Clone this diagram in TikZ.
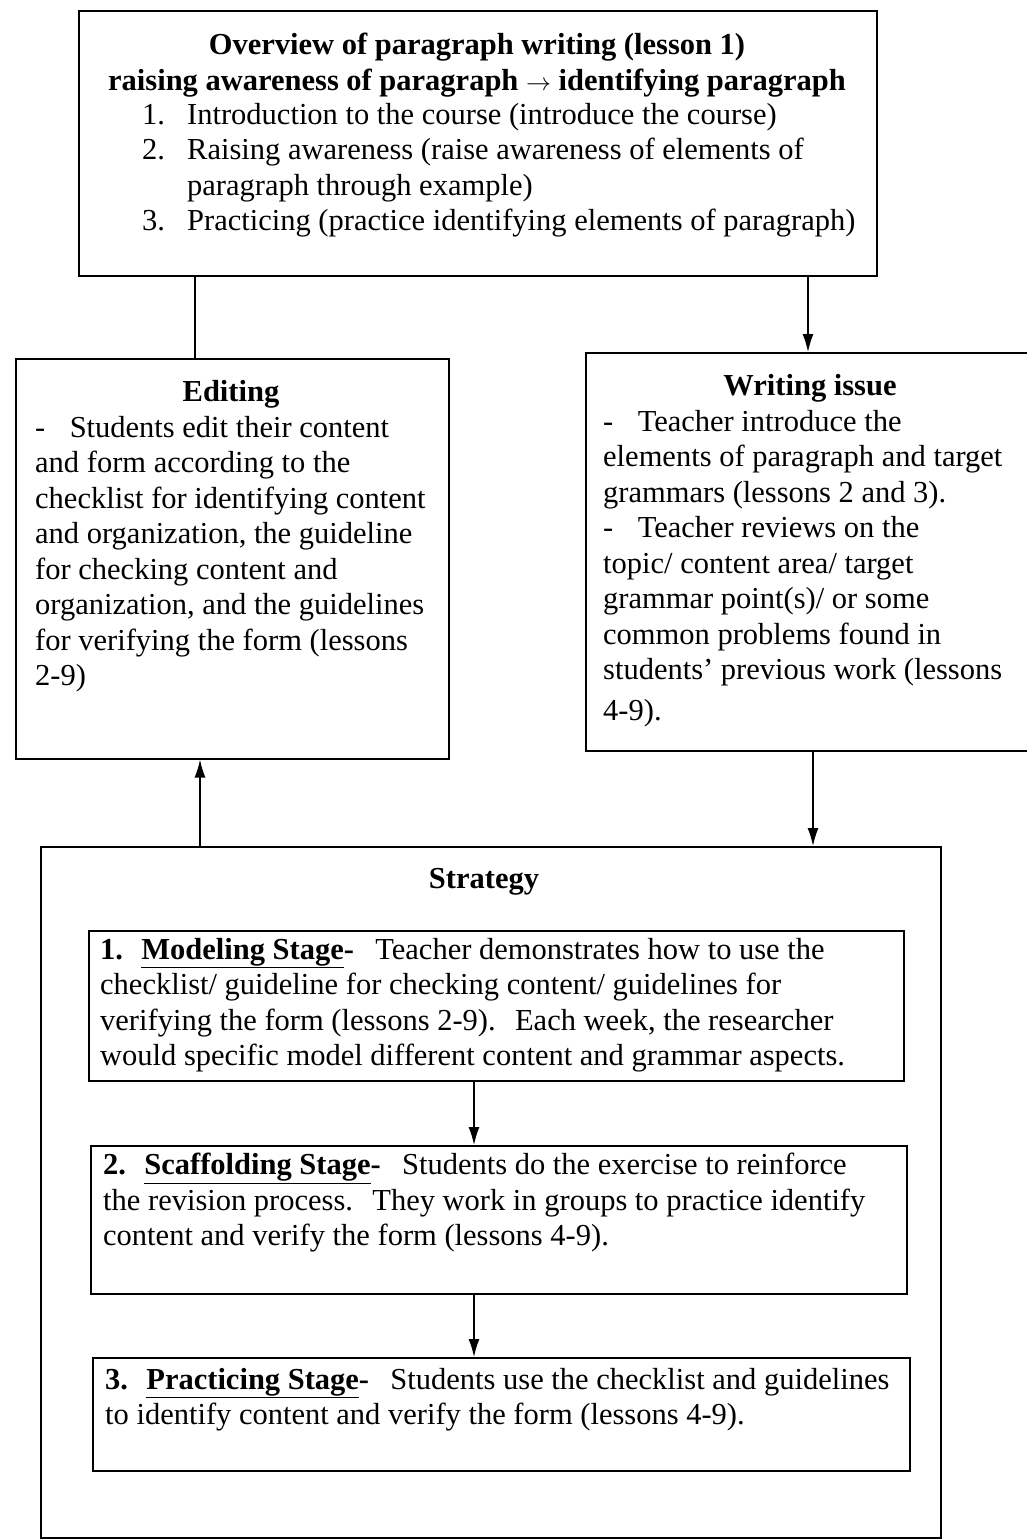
\documentclass[tikz,border=0pt]{standalone}
\usepackage{fontspec}
\setmainfont{Liberation Serif}
\usetikzlibrary{arrows.meta}
\usetikzlibrary{positioning}
\tikzset{box/.style = {draw, line width=1.6pt, inner sep=0, anchor=north west}}
\tikzset{txt/.style = {inner sep=0, anchor=north west, align=left, font=\fontsize{30.5}{35.5}\selectfont}}
\tikzset{ttl/.style = {txt, anchor=north, align=center, font=\fontsize{30.5}{35.5}\selectfont\bfseries}}
\tikzset{arr/.style = {-{Latex[length=18pt, width=11pt]}, line width=1.4pt}}
\tikzset{line/.style = {line width=1.4pt}}
\newcommand{\stagename}[2]{\textbf{#1.}\hspace{0.6em}\underline{\textbf{#2}}\textbf{-}\hspace{0.7em}}
\newcommand{\numitem}[1]{\makebox[45pt][l]{#1}}

\begin{document}
\begin{tikzpicture}[x=1pt, y=-1pt]
      \useasboundingbox (0,0) rectangle (1027,1540);

      % boxes
      \node[box, minimum width=798pt, minimum height=265pt] (overview) at (78,10) {};
      \node[box, minimum width=433pt, minimum height=400pt] (editing) at (15,358) {};
      \node[box, minimum width=443pt, minimum height=398pt] (writing) at (585,352) {};
      \node[box, minimum width=900pt, minimum height=691pt] (strategy) at (40,846) {};
      \node[box, minimum width=815pt, minimum height=150pt] (modeling) at (88,930) {};
      \node[box, minimum width=816pt, minimum height=148pt] (scaffolding) at (90,1145) {};
      \node[box, minimum width=817pt, minimum height=113pt] (practicing) at (92,1357) {};

      % texts
      \node[ttl] (overviewtitle) at (477,33) {Overview of paragraph writing (lesson 1)\\
        raising awareness of paragraph $\rightarrow$ identifying paragraph};
      \node[txt] (overviewlist) at (142,103) {\numitem{1.}Introduction to the course (introduce the course)\\
        \numitem{2.}Raising awareness (raise awareness of elements of\\
        \numitem{}paragraph through example)\\
        \numitem{3.}Practicing (practice identifying elements of paragraph)};

      \node[ttl] (editingtitle) at (231,380) {Editing};
      \node[txt] (editingtext) at (35,416) {-\hspace{0.8em}Students edit their content\\
        and form according to the\\
        checklist for identifying content\\
        and organization, the guideline\\
        for checking content and\\
        organization, and the guidelines\\
        for verifying the form (lessons\\
        2-9)};

      \node[ttl] (writingtitle) at (810,374) {Writing issue};
      \node[txt] (writingtext) at (603,410) {-\hspace{0.8em}Teacher introduce the\\
        elements of paragraph and target\\
        grammars (lessons 2 and 3).\\
        -\hspace{0.8em}Teacher reviews on the\\
        topic/ content area/ target\\
        grammar point(s)/ or some\\
        common problems found in\\
        students' previous work (lessons\\[5pt]
        4-9).};

      \node[ttl] (strategytitle) at (484,868) {Strategy};
      \node[txt] (modelingtext) at (100,938) {\stagename{1}{Modeling Stage}Teacher demonstrates how to use the\\
        checklist/ guideline for checking content/ guidelines for\\
        verifying the form (lessons 2-9).\hspace{0.3em} Each week, the researcher\\
        would specific model different content and grammar aspects.};
      \node[txt] (scaffoldingtext) at (103,1153) {\stagename{2}{Scaffolding Stage}Students do the exercise to reinforce\\
        the revision process.\hspace{0.3em} They work in groups to practice identify\\
        content and verify the form (lessons 4-9).};
      \node[txt] (practicingtext) at (105,1368) {\stagename{3}{Practicing Stage}Students use the checklist and guidelines\\
        to identify content and verify the form (lessons 4-9).};

      % connectors
      \coordinate (leftx) at (195,0);
      \coordinate (rightx) at (808,0);
      \coordinate (downx) at (813,0);
      \coordinate (upx) at (200,0);
      \coordinate (stagex) at (474,0);
      \draw[line] (overview.south -| leftx) -- (editing.north -| leftx);
      \draw[arr] (overview.south -| rightx) -- (writing.north -| rightx);
      \draw[arr] (writing.south -| downx) -- (strategy.north -| downx);
      \draw[arr] (strategy.north -| upx) -- (editing.south -| upx);
      \draw[arr] (modeling.south -| stagex) -- (scaffolding.north -| stagex);
      \draw[arr] (scaffolding.south -| stagex) -- (practicing.north -| stagex);
    \end{tikzpicture}
\end{document}
